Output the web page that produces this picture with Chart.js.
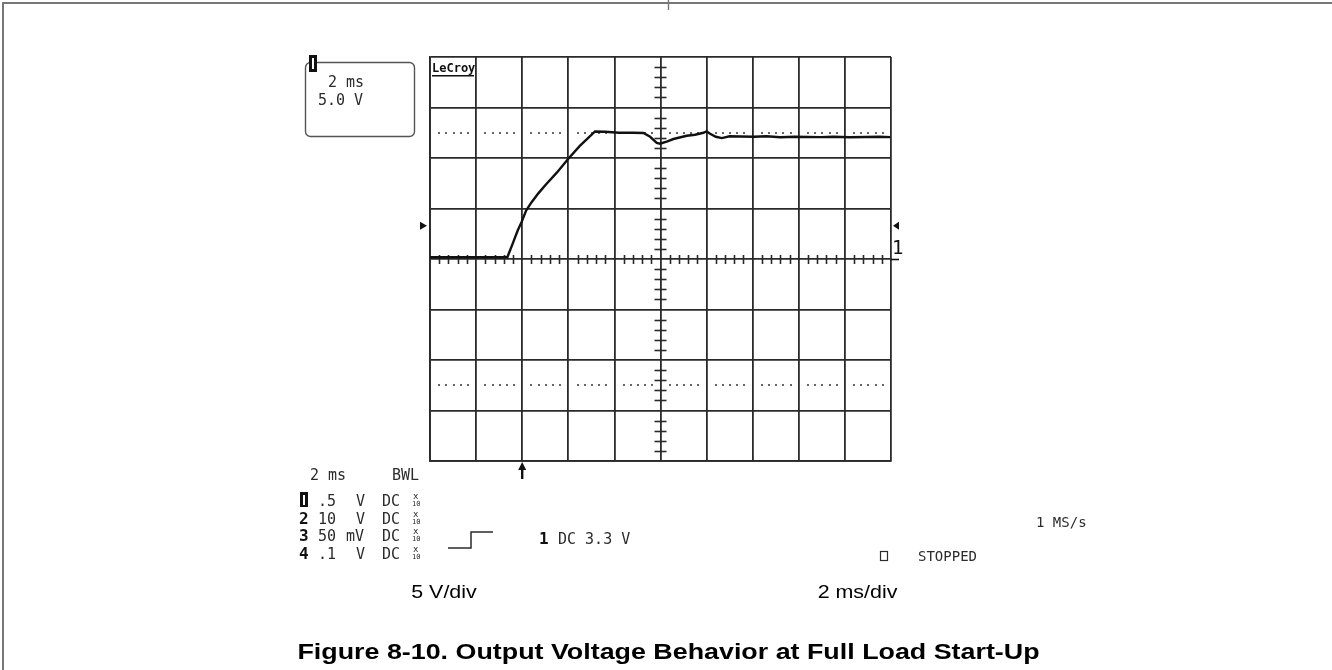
<!DOCTYPE html>
<html>
<head>
<meta charset="utf-8">
<script src="https://cdn.jsdelivr.net/npm/chart.js@4.4.0/dist/chart.umd.min.js"></script>
<style>
  html, body { margin: 0; padding: 0; background: #fff; }
  #wrap { position: relative; width: 1332px; height: 670px; }
</style>
</head>
<body>
<div id="wrap"><canvas id="scope" width="1332" height="670"></canvas></div>
<script>
// channel 1 start-up trace: time in ms from left edge of screen, output in volts
var timeMs = [0, 1.0, 2.0, 3.0, 3.36, 3.6, 3.8, 3.98, 4.17, 4.4, 4.7, 5.0, 5.5, 6.0, 6.5, 7.16,
  7.6, 8.2, 8.8, 9.26, 9.55, 9.84, 9.98, 10.3, 10.56, 11.14, 11.5, 11.86, 12.0, 12.15, 12.4, 12.66,
  13.0, 13.46, 14.04, 14.6, 15.2, 15.8, 16.4, 16.93, 17.5, 18.2, 18.9, 19.5, 19.97];
var volts = [0.17, 0.17, 0.17, 0.17, 0.2, 1.6, 2.8, 3.7, 4.8, 5.6, 6.5, 7.3, 8.55, 9.92, 11.2, 12.63,
  12.6, 12.5, 12.5, 12.47, 12.1, 11.5, 11.41, 11.65, 11.88, 12.2, 12.3, 12.5, 12.63, 12.4, 12.1, 11.97,
  12.15, 12.13, 12.1, 12.15, 12.05, 12.1, 12.08, 12.07, 12.1, 12.05, 12.08, 12.1, 12.07];

// screen: 10 divisions of 2 ms, 8 divisions of 5 V
var xMin = 0, xMax = 20, xDiv = 2;
var yMin = -20, yMax = 20, yDiv = 5;
var cursorV = [12.5, -12.5];
var trigMs = 4;

// readout text
var chanRows = [
  ['1', '.5', 'V', 'DC'],
  ['2', '10', 'V', 'DC'],
  ['3', '50', 'mV', 'DC'],
  ['4', '.1', 'V', 'DC']
];
var axisCaptions = ['5 V/div', '2 ms/div'];
var figTitle = 'Figure 8-10. Output Voltage Behavior at Full Load Start-Up';

var pts = timeMs.map(function (t, i) { return { x: t, y: volts[i] }; });

var MONO = "'DejaVu Sans Mono', monospace";
var SANS = "'Liberation Sans', Arial, sans-serif";
var INK = '#2b2b2b';

function tri(ctx, x1, y1, x2, y2, x3, y3) {
  ctx.beginPath(); ctx.moveTo(x1, y1); ctx.lineTo(x2, y2); ctx.lineTo(x3, y3); ctx.closePath(); ctx.fill();
}

// centred text squeezed/stretched horizontally by sx
function wideText(ctx, txt, cx, by, sx) {
  ctx.save();
  ctx.translate(cx, by);
  ctx.scale(sx, 1);
  ctx.textAlign = 'center';
  ctx.fillText(txt, 0, 0);
  ctx.restore();
}

var scopeDecor = {
  id: 'scopeDecor',
  beforeDatasetsDraw: function (chart) {
    var ctx = chart.ctx, xs = chart.scales.x, ys = chart.scales.y;
    var x0 = xs.getPixelForValue((xMin + xMax) / 2), y0 = ys.getPixelForValue(0);
    ctx.save();
    ctx.strokeStyle = '#2a2a2a';
    ctx.lineWidth = 1.6;
    // minor ticks on centre axes
    for (var t = xMin; t <= xMax + 0.001; t += 0.4) {
      if (Math.abs(t / xDiv - Math.round(t / xDiv)) < 0.01) continue;
      var px = Math.round(xs.getPixelForValue(t)) + 0.5;
      ctx.beginPath(); ctx.moveTo(px, y0 - 4); ctx.lineTo(px, y0 + 5); ctx.stroke();
    }
    for (var v = yMin; v <= yMax; v += 1) {
      if (v % yDiv === 0) continue;
      var py = Math.round(ys.getPixelForValue(v)) + 0.5;
      ctx.beginPath(); ctx.moveTo(x0 - 6, py); ctx.lineTo(x0 + 6, py); ctx.stroke();
    }
    // dotted cursor rows
    ctx.fillStyle = '#666';
    cursorV.forEach(function (cv) {
      var py = ys.getPixelForValue(cv);
      for (var d = xMin; d < xMax; d += xDiv) {
        for (var k = 0; k < 5; k++) {
          var px = xs.getPixelForValue(d + xDiv * (0.18 + 0.155 * k));
          ctx.fillRect(Math.round(px), Math.round(py) - 1, 2, 2);
        }
      }
    });
    ctx.restore();
  },
  afterDraw: function (chart) {
    var ctx = chart.ctx, xs = chart.scales.x, ys = chart.scales.y, a = chart.chartArea;
    ctx.save();

    // page frame
    ctx.strokeStyle = '#777';
    ctx.lineWidth = 2;
    ctx.beginPath(); ctx.moveTo(3, 670); ctx.lineTo(3, 3); ctx.lineTo(1332, 3); ctx.stroke();
    ctx.lineWidth = 1.4;
    ctx.beginPath(); ctx.moveTo(668.5, 0); ctx.lineTo(668.5, 10); ctx.stroke();

    // channel 1 offset markers
    var yMark = ys.getPixelForValue(3.3);
    ctx.fillStyle = '#111';
    tri(ctx, a.left - 10, yMark - 4, a.left - 10, yMark + 4, a.left - 3, yMark);
    tri(ctx, a.right + 8, yMark - 4, a.right + 8, yMark + 4, a.right + 2, yMark);
    ctx.strokeStyle = '#111';
    ctx.lineWidth = 1.6;
    var yz = Math.round(ys.getPixelForValue(0)) + 0.5;
    ctx.beginPath(); ctx.moveTo(a.right, yz); ctx.lineTo(a.right + 8, yz); ctx.stroke();
    ctx.font = '19px ' + MONO;
    ctx.textBaseline = 'alphabetic';
    ctx.fillText('1', a.right + 1, yz - 6);

    // trigger arrow
    var tx = xs.getPixelForValue(trigMs);
    tri(ctx, tx - 4, a.bottom + 9, tx + 4, a.bottom + 9, tx, a.bottom + 1);
    ctx.fillRect(tx - 1.2, a.bottom + 6, 2.4, 12);

    // LeCroy logo
    ctx.fillStyle = '#111';
    ctx.font = 'bold 12px ' + MONO;
    ctx.fillText('LeCroy', a.left + 2, 72);
    ctx.fillRect(a.left + 2, 75, 42, 1.5);

    // zoom/timebase box
    ctx.strokeStyle = '#555';
    ctx.lineWidth = 1.4;
    ctx.beginPath();
    if (ctx.roundRect) ctx.roundRect(305.5, 62.5, 109, 74, 5); else ctx.rect(305.5, 62.5, 109, 74);
    ctx.stroke();
    ctx.fillStyle = '#111';
    ctx.fillRect(309, 55, 8, 17);
    ctx.fillStyle = '#fff';
    ctx.fillRect(312, 58, 2, 11);
    ctx.fillStyle = INK;
    ctx.font = '15px ' + MONO;
    ctx.fillText('2 ms', 328, 87);
    ctx.fillText('5.0 V', 318, 105);

    // bottom-left readout
    ctx.fillText('2 ms', 310, 480);
    ctx.fillText('BWL', 392, 480);
    chanRows.forEach(function (r, i) {
      var by = 506 + i * 17.5;
      if (i === 0) {
        ctx.fillStyle = '#111';
        ctx.fillRect(300, by - 14, 8, 15);
        ctx.fillStyle = '#fff';
        ctx.fillRect(303, by - 11, 2, 10);
      } else {
        ctx.fillStyle = '#111';
        ctx.font = 'bold 16px ' + MONO;
        ctx.fillText(r[0], 299, by);
      }
      ctx.fillStyle = INK;
      ctx.font = '15px ' + MONO;
      ctx.fillText(r[1], 318, by);
      ctx.fillText(r[2], r[2].length > 1 ? 346 : 356, by);
      ctx.fillText(r[3], 382, by);
      ctx.font = '9px ' + MONO;
      ctx.fillText('x', 413, by - 7);
      ctx.font = '7px ' + MONO;
      ctx.fillText('10', 412, by);
    });

    // trigger readout
    ctx.strokeStyle = INK;
    ctx.lineWidth = 1.5;
    ctx.beginPath(); ctx.moveTo(448, 548); ctx.lineTo(471, 548); ctx.lineTo(471, 532); ctx.lineTo(493, 532); ctx.stroke();
    ctx.fillStyle = '#111';
    ctx.font = 'bold 16px ' + MONO;
    ctx.fillText('1', 539, 544);
    ctx.fillStyle = INK;
    ctx.font = '15px ' + MONO;
    ctx.fillText('DC 3.3 V', 558, 544);
    ctx.font = '14px ' + MONO;
    ctx.fillText('1 MS/s', 1036, 527);
    ctx.fillText('STOPPED', 918, 561);
    ctx.lineWidth = 1.2;
    ctx.strokeRect(880.5, 551.5, 7, 9);

    // captions
    ctx.fillStyle = '#000';
    ctx.font = '18px ' + SANS;
    wideText(ctx, axisCaptions[0], 444, 598, 1.19);
    wideText(ctx, axisCaptions[1], 857.5, 598, 1.19);
    ctx.font = 'bold 22px ' + SANS;
    wideText(ctx, figTitle, 668.5, 659, 1.22);
    ctx.restore();
  }
};

var chart = new Chart(document.getElementById('scope').getContext('2d'), {
  type: 'line',
  data: {
    datasets: [{
      data: pts,
      borderColor: '#111',
      borderWidth: 2.4,
      pointRadius: 0,
      tension: 0,
      fill: false
    }]
  },
  options: {
    responsive: false,
    animation: false,
    layout: { padding: { left: 430, right: 441, top: 57, bottom: 209 } },
    plugins: { legend: { display: false }, tooltip: { enabled: false } },
    scales: {
      x: {
        type: 'linear', min: xMin, max: xMax,
        ticks: { display: false, stepSize: xDiv },
        grid: { color: '#2a2a2a', lineWidth: 1.8, drawTicks: false },
        border: { color: '#2a2a2a', width: 1.8 }
      },
      y: {
        min: yMin, max: yMax,
        ticks: { display: false, stepSize: yDiv },
        grid: { color: '#2a2a2a', lineWidth: 1.8, drawTicks: false },
        border: { color: '#2a2a2a', width: 1.8 }
      }
    }
  },
  plugins: [scopeDecor]
});
</script>
</body>
</html>
